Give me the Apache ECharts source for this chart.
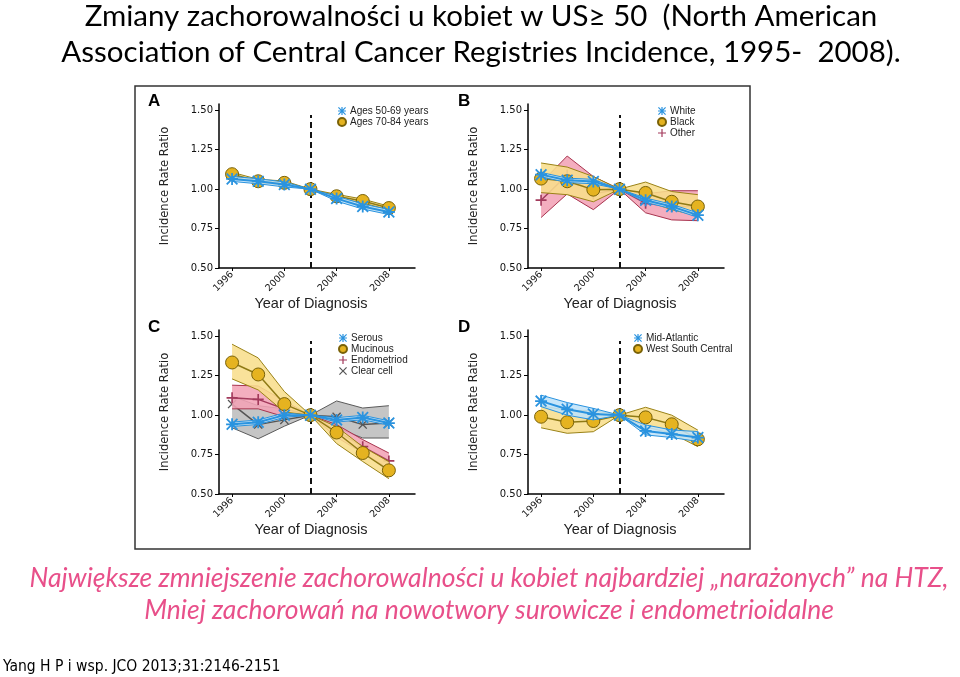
<!DOCTYPE html>
<html><head><meta charset="utf-8">
<script src="https://cdn.jsdelivr.net/npm/echarts@6/dist/echarts.min.js"></script>
<style>html,body{margin:0;padding:0;background:#fff}#c{width:960px;height:677px}</style>
</head><body><div id="c"></div>
<script>
const years = [1996, 1998, 2000, 2002, 2004, 2006, 2008];
const xTickLabels = [1996, 2000, 2004, 2008];
const yTickLabels = [0.5, 0.75, 1.0, 1.25, 1.5];

// Panel A
const aYoungMid = [1.065, 1.050, 1.030, 1.000, 0.940, 0.890, 0.855];
const aYoungLo  = [1.049, 1.034, 1.014, 1.000, 0.924, 0.874, 0.839];
const aYoungHi  = [1.081, 1.066, 1.046, 1.000, 0.956, 0.906, 0.871];
const aOldMid   = [1.095, 1.050, 1.040, 1.000, 0.955, 0.925, 0.880];
const aOldLo    = [1.083, 1.038, 1.028, 1.000, 0.943, 0.913, 0.868];
const aOldHi    = [1.107, 1.062, 1.052, 1.000, 0.967, 0.937, 0.892];
// Panel B
const bWhiteMid = [1.092, 1.056, 1.048, 1.000, 0.930, 0.890, 0.835];
const bWhiteLo  = [1.078, 1.042, 1.034, 1.000, 0.916, 0.876, 0.821];
const bWhiteHi  = [1.106, 1.070, 1.062, 1.000, 0.944, 0.904, 0.849];
const bBlackMid = [1.067, 1.050, 0.997, 1.000, 0.976, 0.920, 0.890];
const bBlackLo  = [0.978, 0.965, 0.920, 1.000, 0.925, 0.870, 0.830];
const bBlackHi  = [1.166, 1.140, 1.080, 1.000, 1.045, 0.985, 0.965];
const bOtherMid = [0.930, 1.090, 0.970, 1.000, 0.910, 0.890, 0.890];
const bOtherLo  = [0.820, 0.970, 0.870, 1.000, 0.850, 0.805, 0.800];
const bOtherHi  = [1.040, 1.210, 1.080, 1.000, 0.970, 0.990, 0.990];
// Panel C
const cSerMid = [0.942, 0.955, 1.000, 1.000, 0.970, 0.985, 0.950];
const cSerLo  = [0.928, 0.941, 0.986, 1.000, 0.956, 0.971, 0.936];
const cSerHi  = [0.956, 0.969, 1.014, 1.000, 0.984, 0.999, 0.964];
const cMucMid = [1.334, 1.258, 1.070, 1.000, 0.890, 0.760, 0.650];
const cMucLo  = [1.230, 1.160, 1.020, 1.000, 0.820, 0.706, 0.597];
const cMucHi  = [1.450, 1.363, 1.150, 1.000, 0.927, 0.800, 0.705];
const cEndMid = [1.110, 1.100, 1.040, 1.000, 0.900, 0.800, 0.710];
const cEndLo  = [1.040, 1.040, 0.990, 1.000, 0.860, 0.760, 0.660];
const cEndHi  = [1.190, 1.185, 1.090, 1.000, 0.940, 0.845, 0.760];
const cClrMid = [1.070, 0.940, 0.970, 1.000, 0.990, 0.940, 0.950];
const cClrLo  = [0.920, 0.850, 0.930, 1.000, 0.920, 0.855, 0.855];
const cClrHi  = [1.120, 1.060, 1.040, 1.000, 1.090, 1.045, 1.060];
// Panel D
const dMidAtlMid = [1.089, 1.037, 1.007, 1.000, 0.900, 0.880, 0.858];
const dMidAtlLo  = [1.054, 1.000, 0.970, 1.000, 0.875, 0.858, 0.833];
const dMidAtlHi  = [1.127, 1.080, 1.043, 1.000, 0.938, 0.906, 0.896];
const dWscMid = [0.990, 0.955, 0.963, 1.000, 0.986, 0.942, 0.847];
const dWscLo  = [0.920, 0.885, 0.895, 1.000, 0.925, 0.885, 0.800];
const dWscHi  = [1.060, 1.030, 1.030, 1.000, 1.050, 1.000, 0.905];

const refYear = 2002;
const refLine = [0.5, 1.47];

const STAR = 'path://M8.5 0L11.5 0L11.5 20L8.5 20Z M0 8.5L20 8.5L20 11.5L0 11.5Z M2.1 0L20 17.9L17.9 20L0 2.1Z M17.9 0L20 2.1L2.1 20L0 17.9Z';
const PLUS = 'path://M8.5 0L11.5 0L11.5 20L8.5 20Z M0 8.5L20 8.5L20 11.5L0 11.5Z';
const CROSS = 'path://M2.1 0L10 7.9L17.9 0L20 2.1L12.1 10L20 17.9L17.9 20L10 12.1L2.1 20L0 17.9L7.9 10L0 2.1Z';

const ST = {
  blue: {line:'#2a93df', fill:'#bfe2f9', edge:'#2a93df', symbol:STAR, size:12, color:'#2a93df', border:'#2a93df', bw:0, lw:2},
  gold: {line:'#8f7a15', fill:'#f8de8c', edge:'#9a8216', symbol:'circle', size:13, color:'#e5b320', border:'#7a6208', bw:1, lw:1.5},
  pink: {line:'#a33a5c', fill:'#f2a3b6', edge:'#a8344f', symbol:PLUS, size:11, color:'#a33a5c', border:'#a33a5c', bw:0, lw:1.5},
  gray: {line:'#555555', fill:'#bdbdbd', edge:'#5a5a5a', symbol:CROSS, size:9, color:'#555555', border:'#555555', bw:0, lw:1.5}
};

const series = [];
function group(gi, name, st, mid, lo, hi, order, withRef) {
  series.push({
    type:'custom', name: name + ' (CI)', xAxisIndex:gi, yAxisIndex:gi, silent:true, animation:false,
    z: order*3+1, clip:true,
    data: years.map((y, i) => [y, lo[i], hi[i]]),
    encode:{x:0, y:[1,2]},
    renderItem: function (params, api) {
      if (params.dataIndexInside !== 0) return null;
      const n = params.dataInsideLength;
      const top = [], bot = [];
      for (let j = 0; j < n; j++) {
        top.push(api.coord([api.value(0, j), api.value(2, j)]));
        bot.push(api.coord([api.value(0, j), api.value(1, j)]));
      }
      return {type:'group', children:[
        {type:'polygon', shape:{points: top.concat(bot.slice().reverse())}, style:{fill:st.fill, opacity:0.88}},
        {type:'polyline', shape:{points: top}, style:{stroke:st.edge, lineWidth:1, fill:null}},
        {type:'polyline', shape:{points: bot}, style:{stroke:st.edge, lineWidth:1, fill:null}}
      ]};
    }
  });
  const s = {
    type:'line', xAxisIndex:gi, yAxisIndex:gi, animation:false,
    name: name, data: years.map((y, i) => [y, mid[i]]),
    symbol: st.symbol, symbolSize: st.size, showAllSymbol:true,
    itemStyle:{color:st.color, borderColor:st.border, borderWidth:st.bw},
    lineStyle:{color:st.line, width:st.lw}, z: order*3+2
  };
  if (withRef) {
    s.markLine = {silent:true, symbol:'none', animation:false, label:{show:false},
      lineStyle:{color:'#111', type:[6,4], width:2},
      data:[[{coord:[refYear, refLine[0]]}, {coord:[refYear, refLine[1]]}]]};
  }
  series.push(s);
}

group(0, 'Ages 70-84 years', ST.gold, aOldMid, aOldLo, aOldHi, 1, false);
group(0, 'Ages 50-69 years', ST.blue, aYoungMid, aYoungLo, aYoungHi, 2, true);
group(1, 'Other', ST.pink, bOtherMid, bOtherLo, bOtherHi, 1, false);
group(1, 'Black', ST.gold, bBlackMid, bBlackLo, bBlackHi, 2, false);
group(1, 'White', ST.blue, bWhiteMid, bWhiteLo, bWhiteHi, 3, true);
group(2, 'Clear cell', ST.gray, cClrMid, cClrLo, cClrHi, 1, false);
group(2, 'Endometriod', ST.pink, cEndMid, cEndLo, cEndHi, 2, false);
group(2, 'Mucinous', ST.gold, cMucMid, cMucLo, cMucHi, 3, false);
group(2, 'Serous', ST.blue, cSerMid, cSerLo, cSerHi, 4, true);
group(3, 'West South Central', ST.gold, dWscMid, dWscLo, dWscHi, 1, false);
group(3, 'Mid-Atlantic', ST.blue, dMidAtlMid, dMidAtlLo, dMidAtlHi, 2, true);

const NARROW = '"DejaVu Sans Condensed", "Liberation Sans", sans-serif';
const grids = [
  {left:219, top:104, width:196, height:164},
  {left:528, top:104, width:196, height:164},
  {left:219, top:330, width:196, height:164},
  {left:528, top:330, width:196, height:164}
];
const xAxes = grids.map((g, i) => ({
  gridIndex:i, type:'value', min:1995, max:2010,
  axisLine:{lineStyle:{color:'#000', width:1.5}},
  axisTick:{customValues:xTickLabels, length:3, lineStyle:{color:'#000', width:1}},
  axisLabel:{customValues:xTickLabels, rotate:45, fontSize:9.5, color:'#111', margin:5, fontFamily:'DejaVu Sans',
    formatter: v => String(v)},
  splitLine:{show:false},
  name:'Year of Diagnosis', nameLocation:'middle', nameGap:28,
  nameTextStyle:{fontSize:14.5, color:'#222', fontFamily:'Liberation Sans', padding:[0,12,0,0]}
}));
const yAxes = grids.map((g, i) => ({
  gridIndex:i, type:'value', min:0.5, max:1.54,
  axisLine:{show:true, lineStyle:{color:'#000', width:1.5}},
  axisTick:{show:true, customValues:yTickLabels, length:4, lineStyle:{color:'#000', width:1}},
  axisLabel:{customValues:yTickLabels, fontSize:10, color:'#111', margin:6, fontFamily:'DejaVu Sans',
    formatter: v => Number(v).toFixed(2)},
  splitLine:{show:false},
  name:'Incidence Rate Ratio', nameLocation:'middle', nameGap:48,
  nameTextStyle:{fontSize:12.8, color:'#222', fontFamily:NARROW}
}));

function legendFor(names, left, top) {
  return {data:names, left:left, top:top, orient:'vertical', itemWidth:10, itemHeight:10, itemGap:1,
    padding:0, selectedMode:false, lineStyle:{opacity:0},
    textStyle:{fontSize:10, color:'#222', fontFamily:'Liberation Sans', padding:[0,0,0,-2]}};
}

const letters = [['A',148,101],['B',458,101],['C',148,327],['D',458,327]];
const graphic = [
  {type:'rect', z:-10, shape:{x:135, y:86, width:615, height:463}, style:{fill:'#fff', stroke:'#333', lineWidth:1.5}},
  {type:'text', x:481, y:34, style:{text:'Zmiany zachorowalności u kobiet w US≥ 50  (North American\nAssociation of Central Cancer Registries Incidence, 1995-  2008).',
    fill:'#000', fontFamily:'Lato', fontSize:29.5, lineHeight:36, align:'center', verticalAlign:'middle'}},
  {type:'text', x:489, y:594, style:{text:'Największe zmniejszenie zachorowalności u kobiet najbardziej „narażonych” na HTZ,\nMniej zachorowań na nowotwory surowicze i endometrioidalne',
    fill:'#e8508a', fontFamily:'Lato', fontStyle:'italic', fontSize:26.5, lineHeight:32, align:'center', verticalAlign:'middle'}},
  {type:'text', x:3, y:667, style:{text:'Yang H P i wsp. JCO 2013;31:2146-2151', fill:'#000', fontFamily:NARROW, fontSize:15.5, align:'left', verticalAlign:'middle'}}
].concat(letters.map(l => ({type:'text', x:l[1], y:l[2], style:{text:l[0], fill:'#000', fontFamily:'Liberation Sans', fontWeight:'bold', fontSize:17, align:'left', verticalAlign:'middle'}})));

const chart = echarts.init(document.getElementById('c'), null, {renderer:'canvas'});
chart.setOption({
  backgroundColor:'#fff',
  animation:false,
  grid: grids,
  xAxis: xAxes,
  yAxis: yAxes,
  legend: [
    legendFor(['Ages 50-69 years','Ages 70-84 years'], 336, 106),
    legendFor(['White','Black','Other'], 656, 106),
    legendFor(['Serous','Mucinous','Endometriod','Clear cell'], 337, 333),
    legendFor(['Mid-Atlantic','West South Central'], 632, 333)
  ],
  graphic: graphic,
  series: series
});
</script>
</body></html>
